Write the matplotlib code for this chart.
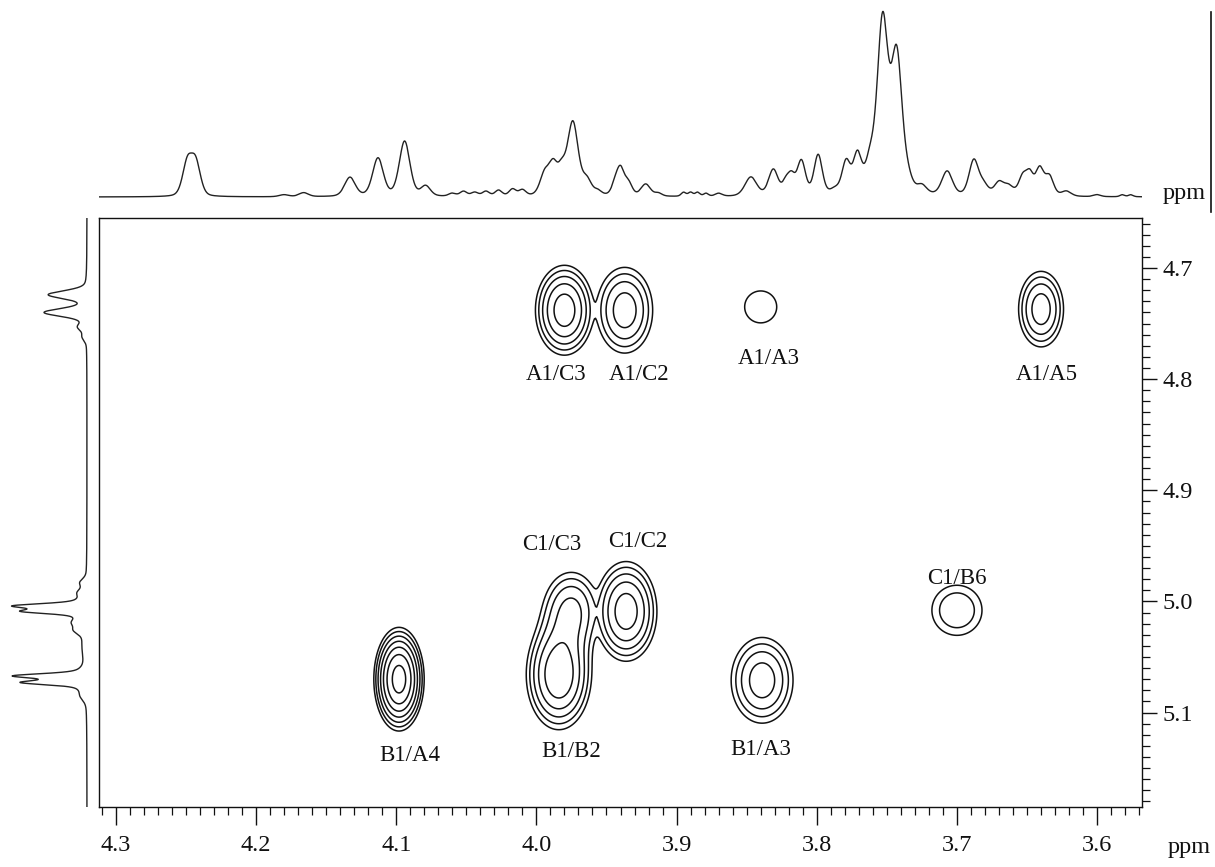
import numpy as np
import matplotlib
matplotlib.use("Agg")
import matplotlib.pyplot as plt
from matplotlib.ticker import MultipleLocator
from matplotlib.lines import Line2D

# ---------------- data ----------------
# 2D cross peaks (F2 ppm, F1 ppm, widths, intensity, overlap group)
cross_f2 = [3.980, 3.937, 3.840, 3.640, 3.975, 3.936, 3.700, 4.098, 3.984, 3.839]
cross_f1 = [4.738, 4.738, 4.735, 4.737, 5.008, 5.009, 5.008, 5.070, 5.066, 5.071]
cross_w2 = [0.0112, 0.0122, 0.0171, 0.0098, 0.0123, 0.0119, 0.0149, 0.0082, 0.0122, 0.0135]
cross_w1 = [0.0219, 0.0236, 0.0215, 0.0208, 0.0220, 0.0243, 0.0188, 0.0213, 0.0260, 0.0236]
cross_amp = [5.5, 3.8, 1.25, 3.8, 3.3, 5.5, 2.05, 11.0, 6.1, 3.8]
cross_group = [0, 1, 2, 3, 4, 5, 6, 7, 4, 8]

# peak labels
label_text = ["A1/C3", "A1/C2", "A1/A3", "A1/A5", "C1/C3", "C1/C2", "C1/B6", "B1/A4", "B1/B2", "B1/A3"]
label_f2 = [3.986, 3.927, 3.834, 3.636, 3.989, 3.928, 3.700, 4.090, 3.975, 3.840]
label_f1 = [4.796, 4.796, 4.781, 4.796, 4.949, 4.946, 4.979, 5.139, 5.135, 5.133]

# top 1D projection (ppm, height, half width)
top_ppm = [4.2490, 4.2430, 4.1800, 4.1660, 4.1330, 4.1130, 4.0940, 4.0790, 4.0600, 4.0520,
           4.0440, 4.0360, 4.0270, 4.0170, 4.0100, 3.9940, 3.9880, 3.9820, 3.9740, 3.9640,
           3.9560, 3.9440, 3.9400, 3.9340, 3.9220, 3.9130, 3.8950, 3.8900, 3.8850, 3.8790,
           3.8700, 3.8470, 3.8310, 3.8220, 3.8180, 3.8110, 3.7990, 3.7870, 3.7790, 3.7710,
           3.7620, 3.7530, 3.7430, 3.7350, 3.7250, 3.7070, 3.6880, 3.6810, 3.6700, 3.6630,
           3.6530, 3.6480, 3.6410, 3.6340, 3.6220, 3.6000, 3.5820, 3.5760]
top_int = [33, 33, 2, 4, 19, 38, 55, 10, 3, 5,
           4, 5, 6, 7, 6, 22, 27, 22, 73, 15,
           4, 8, 27, 11, 12, 3, 4, 4, 4, 3,
           3, 19, 26, 12, 17, 34, 40, 5, 32, 38,
           30, 172, 137, 12, 8, 24, 35, 10, 13, 9,
           19, 19, 27, 19, 5, 2, 2, 2]
top_hw = [0.0040, 0.0040, 0.004, 0.004, 0.0045, 0.0045, 0.0045, 0.004, 0.003, 0.003,
          0.003, 0.003, 0.003, 0.003, 0.003, 0.004, 0.0035, 0.0035, 0.0045, 0.004,
          0.003, 0.003, 0.0035, 0.003, 0.004, 0.003, 0.002, 0.002, 0.002, 0.002,
          0.003, 0.005, 0.004, 0.003, 0.003, 0.0035, 0.0035, 0.004, 0.0035, 0.0035,
          0.004, 0.0045, 0.0045, 0.004, 0.004, 0.0045, 0.004, 0.004, 0.004, 0.004,
          0.0035, 0.003, 0.0035, 0.0035, 0.004, 0.003, 0.002, 0.002]

# left 1D projection (ppm, height, half width)
side_ppm = [4.724, 4.740, 4.753, 4.762, 4.983, 4.992, 5.004, 5.006, 5.009, 5.019, 5.026,
            5.040, 5.067, 5.070, 5.073, 5.085]
side_int = [38, 42, 8, 4, 6, 7, 56, 16, 48, 10, 9,
            4, 58, 16, 50, 5]
side_hw = [0.0042, 0.0042, 0.004, 0.004, 0.004, 0.004, 0.0022, 0.007, 0.0022, 0.004, 0.004,
           0.015, 0.0022, 0.007, 0.0022, 0.005]

# axis ranges and ticks
f2_lim = (4.312, 3.568)
f1_lim = (5.185, 4.655)
f2_ticks = [4.3, 4.2, 4.1, 4.0, 3.9, 3.8, 3.7, 3.6]
f1_ticks = [4.7, 4.8, 4.9, 5.0, 5.1]
level_ratio = 1.45
n_levels = 10


def pvoigt(x, x0, h, w, eta=0.3):
    g = np.exp(-np.log(2) * ((x - x0) / w) ** 2)
    l = 1.0 / (1.0 + ((x - x0) / w) ** 2)
    return h * (eta * l + (1 - eta) * g)


# ---------------- figure ----------------
W, H = 1215, 867
fig = plt.figure(figsize=(W / 100, H / 100), dpi=100)
fig.patch.set_facecolor("white")
serif = ["Liberation Serif", "DejaVu Serif"]

L, R, T, B = 99, 1142, 218, 807
ax = fig.add_axes([L / W, 1 - B / H, (R - L) / W, (B - T) / H])
ax_top = fig.add_axes([L / W, 1 - 200 / H, (R - L) / W, 200 / H])
ax_left = fig.add_axes([0, 1 - B / H, L / W, (B - T) / H])

# 2D contour surface: peaks in one group add up, groups combine softly
x = np.linspace(min(f2_lim), max(f2_lim), 900)
y = np.linspace(min(f1_lim), max(f1_lim), 800)
X, Y = np.meshgrid(x, y)
p = 3.0
groups = {}
for cx, cy, sx, sy, a, g in zip(cross_f2, cross_f1, cross_w2, cross_w1, cross_amp, cross_group):
    comp = a * np.exp(-0.5 * (((X - cx) / sx) ** 2 + ((Y - cy) / sy) ** 2))
    groups[g] = groups.get(g, 0) + comp
Z = sum(gz ** p for gz in groups.values()) ** (1.0 / p)
levels = [level_ratio ** k for k in range(n_levels)]
ax.contour(X, Y, Z, levels=levels, colors="#111111", linewidths=1.1)

for t, lx, ly in zip(label_text, label_f2, label_f1):
    ax.text(lx, ly, t, ha="center", va="center", fontsize=16.5, family=serif, color="#111111")

ax.set_xlim(*f2_lim)
ax.set_ylim(*f1_lim)
ax.set_xticks(f2_ticks)
ax.set_xticklabels([f"{v:.1f}" for v in f2_ticks])
ax.set_yticks(f1_ticks)
ax.set_yticklabels([f"{v:.1f}" for v in f1_ticks])
ax.xaxis.set_minor_locator(MultipleLocator(0.01))
ax.yaxis.set_minor_locator(MultipleLocator(0.01))
ax.yaxis.tick_right()
ax.tick_params(axis="both", which="major", direction="out", width=1.0,
               labelsize=17.5, colors="#111111")
ax.tick_params(axis="x", which="major", length=13, pad=7)
ax.tick_params(axis="y", which="major", length=11, pad=4)
ax.tick_params(axis="both", which="minor", direction="out", length=5.5, width=0.9, colors="#111111")
ax.tick_params(axis="x", which="both", top=False, bottom=True)
ax.tick_params(axis="y", which="both", left=False, right=True)
for lab in ax.get_xticklabels() + ax.get_yticklabels():
    lab.set_family(serif)
for s in ax.spines.values():
    s.set_linewidth(1.0)
    s.set_color("#111111")

# top projection
xt = np.linspace(min(f2_lim), max(f2_lim), 4000)
yt = np.zeros_like(xt)
for c, h, w in zip(top_ppm, top_int, top_hw):
    yt += pvoigt(xt, c, h, w)
ax_top.plot(xt, yt, color="#222222", lw=1.0)
ax_top.set_xlim(*f2_lim)
ax_top.set_ylim(-3, 197)
ax_top.axis("off")

# left projection
ys = np.linspace(min(f1_lim), max(f1_lim), 3000)
xs = np.zeros_like(ys)
for c, h, w in zip(side_ppm, side_int, side_hw):
    xs += pvoigt(ys, c, h, w)
ax_left.plot(-xs, ys, color="#222222", lw=1.0)
ax_left.set_ylim(*f1_lim)
ax_left.set_xlim(-87, 12)
ax_left.axis("off")

# ppm unit labels
fig.text(1163 / W, 1 - 193 / H, "ppm", ha="left", va="center", fontsize=17.5, family=serif, color="#111111")
fig.text(1168 / W, 1 - 847 / H, "ppm", ha="left", va="center", fontsize=17.5, family=serif, color="#111111")
fig.add_artist(Line2D([1211 / W, 1211 / W], [1 - 12 / H, 1 - 212 / H], color="#111111", lw=1.2))

fig.savefig("out.png", dpi=100, facecolor="white")
